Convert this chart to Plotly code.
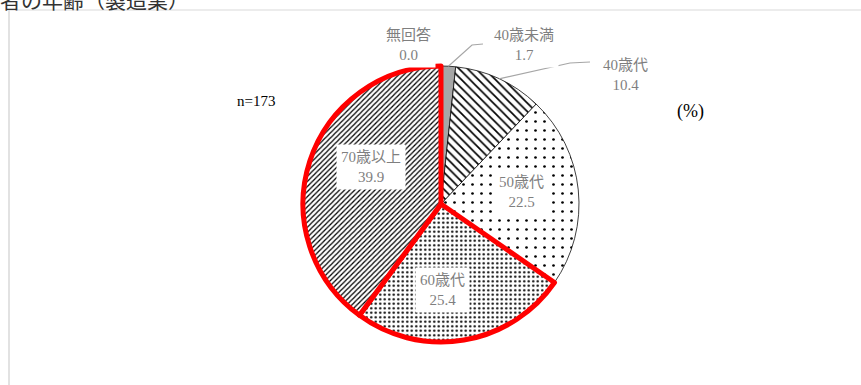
import math
import plotly.graph_objects as go

# ---------------- data ----------------
categories = ["無回答", "40歳未満", "40歳代", "50歳代", "60歳代", "70歳以上"]
values = [0.0, 1.7, 10.4, 22.5, 25.4, 39.9]
sample_label = "n=173"
unit_label = "(%)"
title_text = "者の年齢（製造業）"

# ---------------- layout / style ----------------
W, H = 861, 385
CX, CY, R = 441, 204, 138  # pie centre and radius in pixels

fill_colors = ["#ffffff", "#a6a6a6", "#ffffff", "#ffffff", "#ffffff", "#ffffff"]
pattern_shapes = ["", "", "\\", ".", ".", "/"]
pattern_sizes = [8, 8, 6, 9, 4.5, 3.6]
pattern_solidity = [0.3, 0.3, 0.28, 0.07, 0.22, 0.34]
line_colors = ["rgba(0,0,0,0)", "#000000", "#000000", "#000000", "#ff0000", "#ff0000"]
line_widths = [0, 0.75, 0.75, 0.75, 5, 5]

# label centres (pixels)
label_pos = [(408, 45), (524, 45), (625, 75), (521, 192), (442, 290), (371, 167)]
LABEL_FONT = "Liberation Serif, Noto Sans CJK JP, serif"
LABEL_COLOR = "#7f7f7f"


def px(x):
    return x / W


def py(y):
    return 1 - y / H


fig = go.Figure()
fig.add_trace(go.Pie(
    labels=categories,
    values=values,
    sort=False,
    direction="clockwise",
    rotation=0,
    textinfo="none",
    hoverinfo="label+value",
    showlegend=False,
    domain=dict(x=[px(CX - R), px(CX + R)], y=[py(CY + R), py(CY - R)]),
    marker=dict(
        colors=fill_colors,
        line=dict(color=line_colors, width=line_widths),
        pattern=dict(
            shape=pattern_shapes,
            fgcolor="#000000",
            bgcolor=fill_colors,
            size=pattern_sizes,
            solidity=pattern_solidity,
        ),
    ),
))

# edge points at slice mid-angles (from data)
total = sum(values)
cum = 0.0
mid_edge = []
for v in values:
    a = (cum + v / 2) / total * 2 * math.pi
    mid_edge.append((CX + R * math.sin(a), CY - R * math.cos(a)))
    cum += v

shapes = []
# frame lines
shapes.append(dict(type="line", xref="paper", yref="paper", x0=px(9), x1=px(9), y0=py(10), y1=py(H),
                   line=dict(color="#d9d9d9", width=1.5)))
shapes.append(dict(type="line", xref="paper", yref="paper", x0=px(9), x1=px(W), y0=py(10), y1=py(10),
                   line=dict(color="#d9d9d9", width=1)))

# leader lines (40歳未満, 40歳代)
leaders = {1: [(472, 45), (483, 44)], 2: [(570, 63), (590, 62)]}
for idx, pts in leaders.items():
    path_pts = [mid_edge[idx]] + pts
    d = "M " + " L ".join(f"{px(x)},{py(y)}" for x, y in path_pts)
    shapes.append(dict(type="path", xref="paper", yref="paper", path=d,
                       line=dict(color="#a6a6a6", width=1.2)))

annotations = []
for cat, v, (lx, ly) in zip(categories, values, label_pos):
    annotations.append(dict(
        x=px(lx), y=py(ly), xref="paper", yref="paper",
        text=f"{cat}<br>{v:.1f}", showarrow=False,
        font=dict(family=LABEL_FONT, size=15, color=LABEL_COLOR),
        bgcolor="#ffffff", borderpad=4, align="center",
        xanchor="center", yanchor="middle",
    ))

annotations.append(dict(x=px(256), y=py(101), xref="paper", yref="paper", text=sample_label,
                        showarrow=False, font=dict(family=LABEL_FONT, size=15, color="#000000"),
                        xanchor="center", yanchor="middle"))
annotations.append(dict(x=px(690), y=py(111), xref="paper", yref="paper", text=unit_label,
                        showarrow=False, font=dict(family=LABEL_FONT, size=18, color="#000000"),
                        xanchor="center", yanchor="middle"))
annotations.append(dict(x=px(-2), y=py(-1), xref="paper", yref="paper", text=title_text,
                        showarrow=False, font=dict(family="Noto Sans CJK JP", size=21, color="#333333"),
                        xanchor="left", yanchor="middle"))

fig.update_layout(
    width=W, height=H,
    margin=dict(l=0, r=0, t=0, b=0),
    paper_bgcolor="#ffffff",
    plot_bgcolor="#ffffff",
    shapes=shapes,
    annotations=annotations,
)

fig.write_html("out.html", config={"displayModeBar": False},
               post_script="document.body.style.margin='0';document.body.style.padding='0';")
